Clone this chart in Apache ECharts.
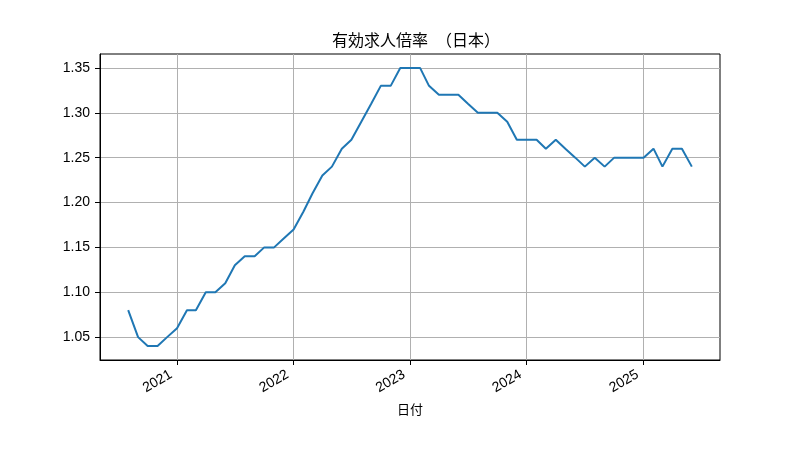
<!DOCTYPE html>
<html>
<head>
<meta charset="utf-8">
<script src="https://cdn.jsdelivr.net/npm/echarts@6/dist/echarts.min.js"></script>
<style>html,body{margin:0;padding:0;background:#fff}#c{width:800px;height:450px}</style>
</head>
<body>
<div id="c"></div>
<script>
var months = [
  '2020-08','2020-09','2020-10','2020-11','2020-12',
  '2021-01','2021-02','2021-03','2021-04','2021-05','2021-06','2021-07','2021-08','2021-09','2021-10','2021-11','2021-12',
  '2022-01','2022-02','2022-03','2022-04','2022-05','2022-06','2022-07','2022-08','2022-09','2022-10','2022-11','2022-12',
  '2023-01','2023-02','2023-03','2023-04','2023-05','2023-06','2023-07','2023-08','2023-09','2023-10','2023-11','2023-12',
  '2024-01','2024-02','2024-03','2024-04','2024-05','2024-06','2024-07','2024-08','2024-09','2024-10','2024-11','2024-12',
  '2025-01','2025-02','2025-03','2025-04','2025-05','2025-06'
];
var ratios = [
  1.08,1.05,1.04,1.04,1.05,
  1.06,1.08,1.08,1.10,1.10,1.11,1.13,1.14,1.14,1.15,1.15,1.16,
  1.17,1.19,1.21,1.23,1.24,1.26,1.27,1.29,1.31,1.33,1.33,1.35,
  1.35,1.35,1.33,1.32,1.32,1.32,1.31,1.30,1.30,1.30,1.29,1.27,
  1.27,1.27,1.26,1.27,1.26,1.25,1.24,1.25,1.24,1.25,1.25,1.25,
  1.25,1.26,1.24,1.26,1.26,1.24
];
var yearTicks = [2021, 2022, 2023, 2024, 2025];
var yTicks = [1.05, 1.10, 1.15, 1.20, 1.25, 1.30, 1.35];

function ts(m) { var p = m.split('-'); return Date.UTC(+p[0], +p[1] - 1, 1); }
var data = months.map(function (m, i) { return [ts(m), ratios[i]]; });
var t0 = ts(months[0]), t1 = ts(months[months.length - 1]);
var xspan = t1 - t0;
var ymin = Math.min.apply(null, ratios), ymax = Math.max.apply(null, ratios);
var yspan = ymax - ymin;
var xTickVals = yearTicks.map(function (y) { return Date.UTC(y, 0, 1); });

var font = 'Liberation Sans, Noto Sans CJK JP, sans-serif';
var chart = echarts.init(document.getElementById('c'), null, {renderer: 'canvas'});
chart.setOption({
  animation: false,
  backgroundColor: '#fff',
  title: {
    text: '有効求人倍率　（日本）',
    left: 411, top: 27, textAlign: 'center',
    textStyle: {fontFamily: 'Noto Sans CJK JP', fontSize: 16, fontWeight: 'normal', color: '#000'}
  },
  grid: {left: 100, right: 80, top: 54, bottom: 90, show: true, borderColor: '#000', borderWidth: 1, backgroundColor: 'transparent'},
  xAxis: {
    type: 'value',
    min: t0 - 0.05 * xspan,
    max: t1 + 0.05 * xspan,
    name: '日付', nameLocation: 'middle', nameGap: 43,
    nameTextStyle: {fontFamily: 'Noto Sans CJK JP', fontSize: 13, color: '#000'},
    axisLine: {show: true, lineStyle: {color: '#000', width: 1}},
    axisTick: {show: true, length: 5, inside: false, lineStyle: {color: '#000'}, customValues: xTickVals},
    axisLabel: {
      customValues: xTickVals, rotate: 30, fontSize: 14, color: '#000', fontFamily: font, margin: 10,
      padding: [0, 7, 0, 0],
      formatter: function (v) { return String(new Date(v).getUTCFullYear()); }
    },
    splitLine: {show: true, lineStyle: {color: '#b0b0b0', width: 1}}
  },
  yAxis: {
    type: 'value',
    min: ymin - 0.05 * yspan,
    max: ymax + 0.05 * yspan,
    axisLine: {show: true, lineStyle: {color: '#000', width: 1}},
    axisTick: {show: true, length: 5, inside: false, lineStyle: {color: '#000'}, customValues: yTicks},
    axisLabel: {
      customValues: yTicks, fontSize: 14, color: '#000', fontFamily: font, margin: 10,
      formatter: function (v) { return v.toFixed(2); }
    },
    splitLine: {show: true, lineStyle: {color: '#b0b0b0', width: 1}}
  },
  series: [{
    type: 'line',
    data: data,
    showSymbol: false,
    symbol: 'none',
    lineStyle: {color: '#1f77b4', width: 2},
    itemStyle: {color: '#1f77b4'}
  }]
});
</script>
</body>
</html>
